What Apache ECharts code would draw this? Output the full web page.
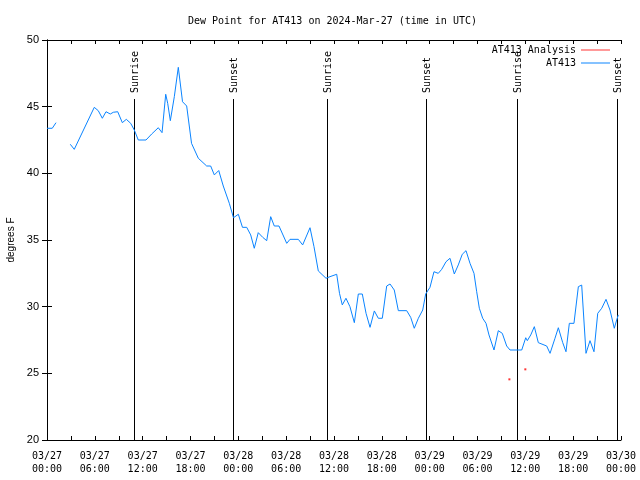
<!DOCTYPE html>
<html>
<head>
<meta charset="utf-8">
<script src="https://cdn.jsdelivr.net/npm/echarts@6/dist/echarts.min.js"></script>
<style>html,body{margin:0;padding:0;background:#fff}#c{width:640px;height:480px}</style>
</head>
<body>
<div id="c"></div>
<script>
// Hours since 2024-03-27 00:00 UTC
const hours = [0,0.66,1.13,2,2.92,3.42,5.93,6.43,6.94,7.4,7.94,8.32,8.87,9.45,9.95,10.5,10.95,11.45,12.42,13.13,13.96,14.43,14.89,15.14,15.47,15.97,16.47,17.0,17.52,18.13,18.98,20.03,20.53,20.99,21.54,22.11,22.87,23.39,24.0,24.52,25.05,25.55,26.0,26.5,27.06,27.56,28.06,28.51,29.1,30.07,30.48,31.52,32.07,32.99,33.49,34.03,35.0,35.5,36.34,36.69,37.04,37.5,38.0,38.55,39.05,39.55,40.02,40.52,41.06,41.56,42.06,42.61,43.03,43.56,44.07,45.12,45.62,46.07,46.58,47.13,47.5,48.04,48.54,49.08,49.51,50.05,50.55,51.09,51.59,52.09,52.56,53.06,53.56,53.9,54.23,54.65,55.07,55.44,56.07,56.61,57.11,57.66,58.08,58.99,59.55,60.05,60.25,60.68,61.13,61.63,62.68,63.1,63.72,64.14,64.69,65.1,65.52,66.1,66.65,67.07,67.61,68.11,68.61,69.08,69.58,70.12,70.62,71.16,71.46,71.66];
const dewPoint = [43.38,43.38,43.8,null,42.18,41.8,44.95,44.7,44.13,44.62,44.45,44.58,44.62,43.8,44.05,43.75,43.25,42.5,42.5,42.95,43.42,43.05,45.93,45.25,43.95,45.75,47.95,45.37,45.05,42.25,41.13,40.55,40.55,39.88,40.21,39.05,37.75,36.67,36.93,35.95,35.95,35.38,34.38,35.55,35.2,34.95,36.75,36.05,36.05,34.75,35.05,35.05,34.63,35.92,34.5,32.68,32.13,32.25,32.43,31.0,30.13,30.63,30.0,28.8,30.95,30.95,29.5,28.45,29.68,29.13,29.13,31.55,31.7,31.25,29.7,29.7,29.2,28.38,29.13,29.75,30.95,31.45,32.62,32.5,32.8,33.37,33.63,32.45,33.13,33.93,34.2,33.25,32.5,31.12,29.88,29.13,28.75,27.88,26.75,28.2,28.0,27.05,26.75,26.75,26.75,27.67,27.45,27.88,28.5,27.3,27.05,26.5,27.63,28.42,27.3,26.62,28.75,28.75,31.5,31.62,26.5,27.45,26.62,29.5,29.88,30.55,29.75,28.38,29.0,29.38];
const analysisHours = [58, 60];
const analysisValues = [24.55, 25.3];
const sunHours = [10.95, 23.37, 35.08, 47.5, 59.0, 71.54];
const sunLabels = ['Sunrise','Sunset','Sunrise','Sunset','Sunrise','Sunset'];
const xTickLabels = ['03/27\n00:00','03/27\n06:00','03/27\n12:00','03/27\n18:00','03/28\n00:00','03/28\n06:00','03/28\n12:00','03/28\n18:00','03/29\n00:00','03/29\n06:00','03/29\n12:00','03/29\n18:00','03/30\n00:00'];

const mono = 'DejaVu Sans Mono';
const chart = echarts.init(document.getElementById('c'), null, {renderer:'canvas'});
const xBase = {type:'value', min:0, max:72, interval:3,
  axisLine:{lineStyle:{color:'#000', width:1}},
  axisTick:{inside:true, length:4, lineStyle:{color:'#000'}},
  splitLine:{show:false}};
const yBase = {type:'value', min:20, max:50, interval:5,
  axisLine:{show:true, lineStyle:{color:'#000', width:1}},
  axisTick:{show:true, inside:true, length:5, lineStyle:{color:'#000'}},
  splitLine:{show:false}};
chart.setOption({
  animation:false,
  backgroundColor:'#fff',
  title:{text:'Dew Point for AT413 on 2024-Mar-27 (time in UTC)', left:183, top:11,
    textStyle:{fontFamily:mono, fontSize:10, fontWeight:'normal', color:'#000'}},
  grid:{left:47, right:19, top:40, bottom:40, containLabel:false, outerBoundsMode:'none'},
  legend:{orient:'vertical', right:25, top:40, align:'right', itemGap:3, itemWidth:29, itemHeight:1,
    textStyle:{fontFamily:mono, fontSize:10, color:'#000'},
    data:[{name:'AT413 Analysis', icon:'rect'},{name:'AT413', icon:'rect'}]},
  xAxis:[
    Object.assign({}, xBase, {position:'bottom',
      axisLabel:{color:'#000', fontFamily:mono, fontSize:10, lineHeight:13, margin:10, showMinLabel:true, showMaxLabel:true,
        formatter:function(v){ return (v % 6 === 0) ? xTickLabels[v/6] : ''; }}}),
    Object.assign({}, xBase, {position:'top', axisLabel:{show:false}})
  ],
  yAxis:[
    Object.assign({}, yBase, {position:'left', name:'degrees F', nameLocation:'middle', nameGap:31,
      nameTextStyle:{fontFamily:'Liberation Sans', fontSize:10, color:'#000'},
      axisLabel:{color:'#000', fontFamily:'Liberation Sans', fontSize:11, margin:8}}),
    Object.assign({}, yBase, {position:'right', axisLabel:{show:false}})
  ],
  series:[
    {name:'AT413 Analysis', type:'scatter', symbol:'rect', symbolSize:2, itemStyle:{color:'#ff0000'},
      data: analysisHours.map((h,i)=>[h, analysisValues[i]])},
    {name:'AT413', type:'line', showSymbol:false, connectNulls:false, lineStyle:{width:1, color:'#0a84ff'},
      itemStyle:{color:'#0a84ff'},
      data: hours.map((h,i)=>[h, dewPoint[i]])},
    {name:'sun', type:'custom', clip:false, silent:true,
      data: sunHours.map((h,i)=>[h, i]),
      encode:{x:0},
      renderItem:function(params, api){
        const h = api.value(0);
        const label = sunLabels[api.value(1)];
        const pb = api.coord([h, 20]);
        const x = Math.round(pb[0]) + 0.5;
        const yTop = params.coordSys.y + 59;
        return {type:'group', children:[
          {type:'line', shape:{x1:x, y1:pb[1], x2:x, y2:yTop}, style:{stroke:'#000', lineWidth:1}},
          {type:'text', x:x+1, y:yTop-6, rotation:Math.PI/2,
            style:{text:label, textAlign:'left', textVerticalAlign:'middle', font:'10px "DejaVu Sans Mono"', fill:'#000'}}
        ]};
      }}
  ]
});
</script>
</body>
</html>
